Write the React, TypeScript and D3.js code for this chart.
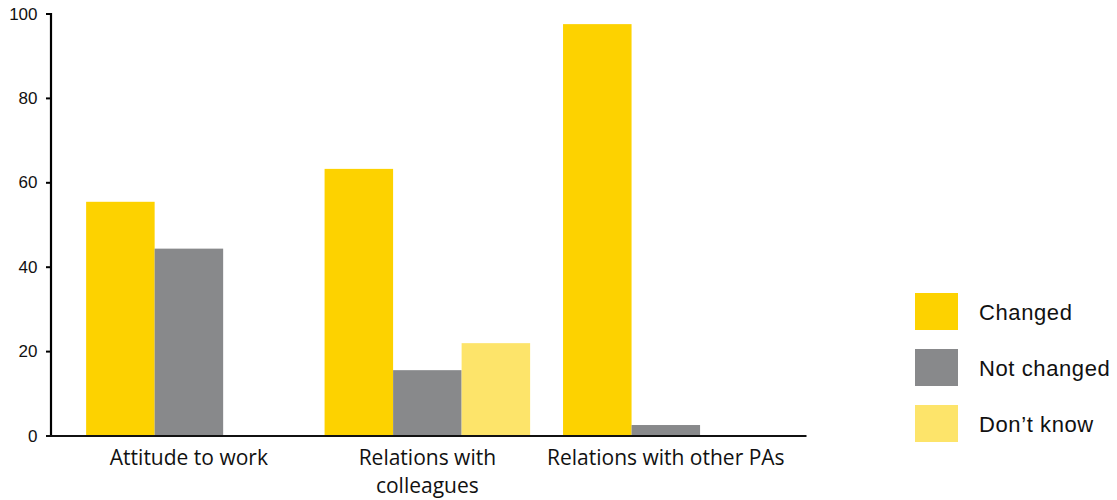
import React from "react";
import * as d3 from "d3";

// Survey categories (each entry split into its display lines)
const categories = ["Attitude to work", "Relations with colleagues", "Relations with other PAs"];
const categoryLines = [["Attitude to work"], ["Relations with", "colleagues"], ["Relations with other PAs"]];

// Series, percent of respondents
const seriesNames = ["Changed", "Not changed", "Don\u2019t know"];
const changed = [55.5, 63.3, 97.6];
const notChanged = [44.4, 15.6, 2.6];
const dontKnow = [0, 22.0, 0];
const seriesColors = ["#FDD200", "#88898B", "#FDE46A"];

const yTicks = [0, 20, 40, 60, 80, 100];

const W = 1117;
const H = 500;

export default function App() {
  const seriesValues = [changed, notChanged, dontKnow];

  const x0 = d3
    .scaleBand<string>()
    .domain(categories)
    .range([52, 806])
    .paddingInner(0.138)
    .paddingOuter(0.15)
    .align(0.477);
  const x1 = d3
    .scaleBand<string>()
    .domain(seriesNames)
    .range([0, x0.bandwidth()]);
  const y = d3.scaleLinear().domain([0, 100]).range([436, 14]);

  const axisX = 51;
  const tickFont = "'Liberation Sans', Arial, Helvetica, sans-serif";
  const catFont = "'Open Sans', sans-serif";

  return (
    <svg
      width={W}
      height={H}
      style={{ position: "absolute", left: 0, top: 0, background: "#fff" }}
    >
      {/* bars */}
      {categories.map((c, ci) => (
        <g key={c} transform={`translate(${x0(c)},0)`}>
          {seriesNames.map((s, si) => {
            const v = seriesValues[si][ci];
            if (!v) return null;
            return (
              <rect
                key={s}
                x={x1(s)}
                y={y(v)}
                width={x1.bandwidth()}
                height={y(0) - y(v)}
                fill={seriesColors[si]}
              />
            );
          })}
        </g>
      ))}

      {/* y axis */}
      <line x1={axisX} x2={axisX} y1={y(100) - 1} y2={y(0)} stroke="#000" strokeWidth={2.2} />
      {yTicks.map((t) => (
        <g key={t}>
          <line x1={axisX - 5} x2={axisX} y1={y(t)} y2={y(t)} stroke="#000" strokeWidth={2} />
          <text
            x={37.5}
            y={y(t)}
            textAnchor="end"
            dominantBaseline="central"
            fontFamily={tickFont}
            fontSize={17}
            fill="#111"
          >
            {t}
          </text>
        </g>
      ))}

      {/* x axis */}
      <line x1={axisX - 5} x2={806.5} y1={y(0)} y2={y(0)} stroke="#111" strokeWidth={2.2} />
      {categories.map((c, ci) => (
        <text
          key={c}
          x={(x0(c) as number) + x0.bandwidth() / 2}
          y={465}
          textAnchor="middle"
          fontFamily={catFont}
          fontSize={21}
          fill="#111"
        >
          {categoryLines[ci].map((line, li) => (
            <tspan key={li} x={(x0(c) as number) + x0.bandwidth() / 2} dy={li === 0 ? 0 : 28}>
              {line}
            </tspan>
          ))}
        </text>
      ))}

      {/* legend */}
      {seriesNames.map((s, si) => (
        <g key={s} transform={`translate(915,${293 + si * 56})`}>
          <rect width={43} height={37} fill={seriesColors[si]} />
          <text
            x={64}
            y={19.5}
            dominantBaseline="central"
            fontFamily={tickFont}
            fontSize={22}
            letterSpacing={0.6}
            fill="#111"
          >
            {s}
          </text>
        </g>
      ))}
    </svg>
  );
}
